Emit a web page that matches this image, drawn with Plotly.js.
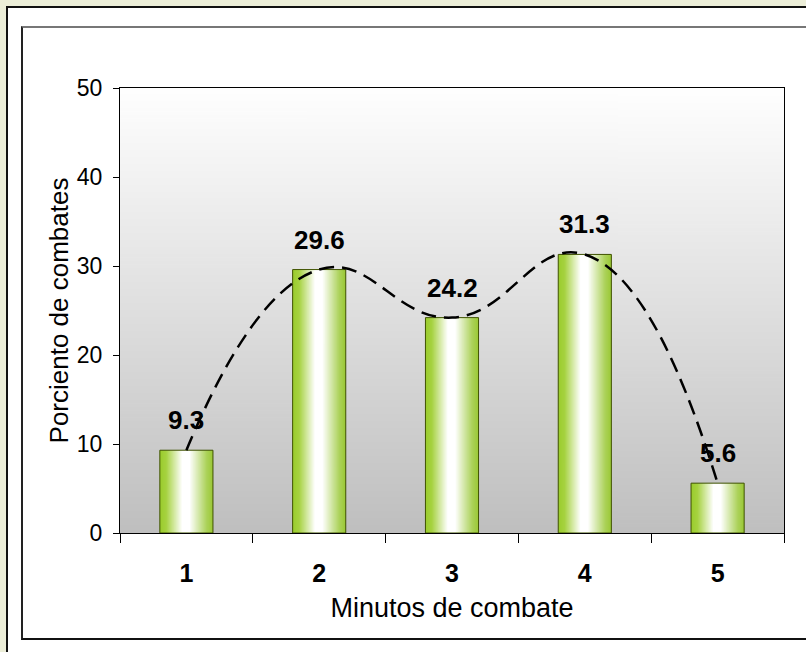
<!DOCTYPE html>
<html><head><meta charset="utf-8">
<script src="https://cdn.plot.ly/plotly-3.0.1.min.js"></script>
<style>
html,body{margin:0;padding:0;background:#eceed8;width:806px;height:652px;overflow:hidden;position:relative}
#outer{position:absolute;left:6px;top:6px;width:900px;height:800px;border-left:2px solid #111;border-top:2px solid #111;background:#fff}
#inner{position:absolute;left:21px;top:26px;width:900px;height:610px;border-left:2px solid #222;border-top:2px solid #777;border-bottom:2px solid #111}
#chart{position:absolute;left:0;top:0;width:806px;height:652px}
</style></head><body>
<div id="outer"></div><div id="inner"></div><div id="chart"></div>
<script>
const categories = ['1', '2', '3', '4', '5'];
const values = [9.3, 29.6, 24.2, 31.3, 5.6];
const valueLabels = ['9.3', '29.6', '24.2', '31.3', '5.6'];
const yTicks = [0, 10, 20, 30, 40, 50];
const xTitle = 'Minutos de combate';
const yTitle = 'Porciento de combates';

function gradURL(horizontal, stops) {
  const c = document.createElement('canvas');
  c.width = horizontal ? 256 : 2;
  c.height = horizontal ? 2 : 256;
  const ctx = c.getContext('2d');
  const g = horizontal ? ctx.createLinearGradient(0, 0, 256, 0) : ctx.createLinearGradient(0, 0, 0, 256);
  stops.forEach(s => g.addColorStop(s[0], s[1]));
  ctx.fillStyle = g;
  ctx.fillRect(0, 0, c.width, c.height);
  return c.toDataURL('image/png');
}
const bgURL = gradURL(false, [[0, '#ffffff'], [1, '#bfbfbf']]);
const barURL = gradURL(true, [[0, '#9acc2c'], [0.12, '#a6d240'], [0.42, '#ffffff'], [0.56, '#ffffff'], [0.88, '#acd25a'], [1, '#9ac834']]);

const SANS = '"Liberation Sans", Arial, sans-serif';
const barWidth = 0.4;

const images = [{
  source: bgURL, xref: 'paper', yref: 'paper', x: 0, y: 1, sizex: 1, sizey: 1,
  xanchor: 'left', yanchor: 'top', sizing: 'stretch', layer: 'below'
}];
values.forEach((v, i) => {
  images.push({
    source: barURL, xref: 'x', yref: 'y', x: i - barWidth / 2, y: 0, sizex: barWidth, sizey: v,
    xanchor: 'left', yanchor: 'bottom', sizing: 'stretch', layer: 'below'
  });
});

const annotations = values.map((v, i) => ({
  x: i, y: v, xref: 'x', yref: 'y', text: valueLabels[i], showarrow: false,
  yanchor: 'bottom', yshift: 13,
  font: {family: SANS, size: 26, color: '#000', weight: 'bold'}
}));

const traces = [
  {type: 'bar', x: categories, y: values, width: barWidth,
   marker: {color: 'rgba(0,0,0,0)', line: {color: '#3f5200', width: 1}}, hoverinfo: 'skip'},
  {type: 'scatter', mode: 'lines', x: categories, y: values,
   line: {shape: 'spline', smoothing: 1.3, dash: '15px,8px', width: 2.5, color: '#000'}, hoverinfo: 'skip'}
];

const layout = {
  width: 806, height: 652,
  margin: {l: 120, r: 22, t: 88, b: 119, pad: 0},
  paper_bgcolor: 'rgba(0,0,0,0)', plot_bgcolor: 'rgba(0,0,0,0)',
  showlegend: false,
  images: images,
  annotations: annotations,
  xaxis: {
    type: 'category', range: [-0.5, 4.5], showgrid: false, zeroline: false,
    showline: true, mirror: true, linecolor: '#000', linewidth: 1,
    ticks: 'outside', tickson: 'boundaries', ticklen: 9, tickcolor: '#000', tickwidth: 1,
    ticklabelstandoff: 18,
    tickfont: {family: SANS, size: 25, color: '#000', weight: 'bold'},
    title: {text: xTitle, font: {family: SANS, size: 27, color: '#000'}, standoff: 12}
  },
  yaxis: {
    range: [0, 50], tickvals: yTicks, ticktext: yTicks.map(String), showgrid: false, zeroline: false,
    showline: true, mirror: true, linecolor: '#000', linewidth: 1,
    ticks: 'outside', ticklen: 6, tickcolor: '#000', tickwidth: 1,
    ticklabelstandoff: 6,
    tickfont: {family: SANS, size: 23, color: '#000'},
    title: {text: yTitle, font: {family: SANS, size: 26, color: '#000'}, standoff: 0}
  }
};

Plotly.newPlot('chart', traces, layout, {staticPlot: true, displayModeBar: false});
</script>
</body></html>
